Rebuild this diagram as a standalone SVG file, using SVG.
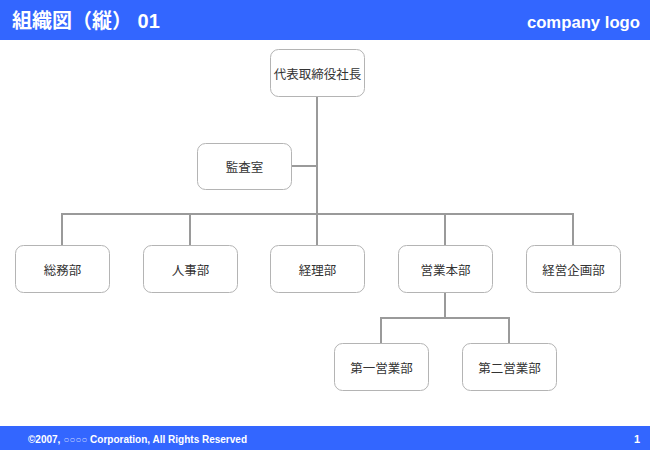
<svg xmlns="http://www.w3.org/2000/svg" width="650" height="450" viewBox="0 0 650 450">
<style>
.node rect{fill:#fff;stroke:#b4b4b4;stroke-width:1}
.node text{font-family:"Noto Sans CJK JP","Liberation Sans",sans-serif;font-size:12.5px;fill:#333;text-anchor:middle;dominant-baseline:central}
.conn{fill:none;stroke:#9a9a9a;stroke-width:2}
.hdr{font-family:"Liberation Sans","Noto Sans CJK JP",sans-serif;font-weight:bold;fill:#fff}
</style>
<rect x="0" y="0" width="650" height="450" fill="#fff"/>
<rect x="0" y="0" width="650" height="40" fill="#3366ff"/>
<text class="hdr" x="12" y="28" font-size="20">組織図（縦） 01</text>
<text class="hdr" x="640" y="28" font-size="16.7" text-anchor="end">company logo</text>
<rect x="0" y="426" width="650" height="24" fill="#3366ff"/>
<text class="hdr" x="28" y="443" font-size="10">©2007, <tspan font-weight="normal" fill="#c8d4ff">○○○○</tspan> Corporation, All Rights Reserved</text>
<text class="hdr" x="640" y="443" font-size="11" text-anchor="end">1</text>
<g id="connectors">
<path class="conn" d="M317 96V214M292 166H317M62 245V214H573V245M190 214V245M317 214V245M445 214V245M445 292V318M381 343V318H509V343"/>
</g>
<g id="n-president" class="node"><rect x="270.5" y="49.5" width="94" height="47" rx="8"/><text x="317.5" y="73">代表取締役社長</text></g>
<g id="n-audit" class="node"><rect x="197.5" y="143.5" width="94" height="46" rx="8"/><text x="244.5" y="166.5">監査室</text></g>
<g id="n-general" class="node"><rect x="15.5" y="245.5" width="94" height="47" rx="8"/><text x="62.5" y="269">総務部</text></g>
<g id="n-hr" class="node"><rect x="143.5" y="245.5" width="94" height="47" rx="8"/><text x="190.5" y="269">人事部</text></g>
<g id="n-accounting" class="node"><rect x="270.5" y="245.5" width="94" height="47" rx="8"/><text x="317.5" y="269">経理部</text></g>
<g id="n-sales" class="node"><rect x="398.5" y="245.5" width="94" height="47" rx="8"/><text x="445.5" y="269">営業本部</text></g>
<g id="n-planning" class="node"><rect x="526.5" y="245.5" width="94" height="47" rx="8"/><text x="573.5" y="269">経営企画部</text></g>
<g id="n-sales1" class="node"><rect x="334.5" y="343.5" width="94" height="47" rx="8"/><text x="381.5" y="367">第一営業部</text></g>
<g id="n-sales2" class="node"><rect x="462.5" y="343.5" width="94" height="47" rx="8"/><text x="509.5" y="367">第二営業部</text></g>
</svg>
